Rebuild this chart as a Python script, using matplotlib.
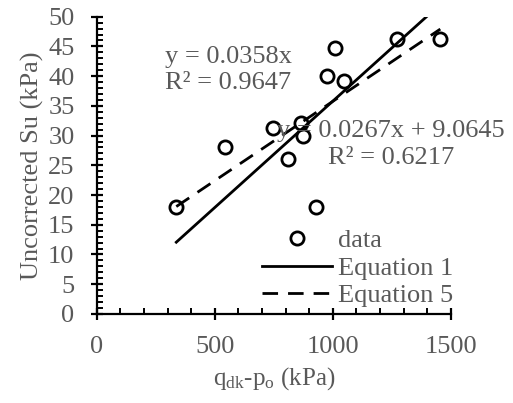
import matplotlib
matplotlib.use("Agg")
import matplotlib.pyplot as plt
import numpy as np
from matplotlib.ticker import MultipleLocator

plt.rcParams['font.family'] = ['Liberation Serif', 'DejaVu Serif']
plt.rcParams['mathtext.fontset'] = 'custom'
plt.rcParams['mathtext.rm'] = 'Liberation Serif'
plt.rcParams['mathtext.it'] = 'Liberation Serif'

qdk_po = [337, 544, 746, 864, 873, 809, 929, 977, 1010, 1048, 1271, 1455]
su = [18.0, 28.1, 31.2, 32.2, 29.9, 26.1, 18.0, 40.0, 44.8, 39.2, 46.3, 46.2]

eq1_slope = 0.0358
eq5_slope = 0.0267
eq5_int = 9.0645

grey = '#595959'
fs = 19

fig = plt.figure(figsize=(5.13, 4.03), dpi=100)
ax = fig.add_axes([0.1885, 0.221, 0.879 - 0.1885, 0.9586 - 0.221])

ax.plot(qdk_po, su, 'o', ms=9.5, mfc='none', mec='black', mew=2.0, label='data', zorder=3)
xl = np.array([min(qdk_po), max(qdk_po)])
ax.plot(xl, eq1_slope * xl, '-', color='black', lw=2.0, label='Equation 1')
ax.plot(xl, eq5_slope * xl + eq5_int, '--', color='black', lw=2.0, dashes=(5.6, 3.6), label='Equation 5')

ax.set_xlim(0, 1500)
ax.set_ylim(0, 50)
ax.xaxis.set_major_locator(MultipleLocator(500))
ax.xaxis.set_minor_locator(MultipleLocator(100))
ax.yaxis.set_major_locator(MultipleLocator(5))
ax.yaxis.set_minor_locator(MultipleLocator(1))

for s in ['top', 'right']:
    ax.spines[s].set_visible(False)
for s in ['left', 'bottom']:
    ax.spines[s].set_linewidth(1.6)

ax.tick_params(which='major', direction='inout', length=8, width=1.6, labelsize=fs, labelcolor=grey, pad=12)
ax.tick_params(which='minor', direction='in', length=4, width=1.4)

ax.set_xlabel(r'q$_\mathregular{dk}$-p$_\mathregular{o}$ (kPa)', fontsize=18, color=grey, labelpad=5)
ax.set_ylabel('Uncorrected Su (kPa)', fontsize=19, color=grey, labelpad=3)

ax.text(165 / 513, 1 - 57 / 403, 'y = 0.0358x', transform=fig.transFigure, fontsize=fs, color=grey, va='center', ha='left')
ax.text(165 / 513, 1 - 83 / 403, 'R² = 0.9647', transform=fig.transFigure, fontsize=fs, color=grey, va='center', ha='left')
ax.text(391 / 513, 1 - 131 / 403, 'y = 0.0267x + 9.0645', transform=fig.transFigure, fontsize=fs, color=grey, va='center', ha='center', clip_on=False)
ax.text(391 / 513, 1 - 158 / 403, 'R² = 0.6217', transform=fig.transFigure, fontsize=fs, color=grey, va='center', ha='center')

leg = ax.legend(loc='upper left', bbox_to_anchor=(262 / 513, 1 - 229 / 403), bbox_transform=fig.transFigure,
                frameon=False, fontsize=fs, borderpad=0, borderaxespad=0,
                handlelength=2.65, handletextpad=0.23, labelspacing=0.15)
for t in leg.get_texts():
    t.set_color(grey)

fig.savefig('out.png', dpi=100)
